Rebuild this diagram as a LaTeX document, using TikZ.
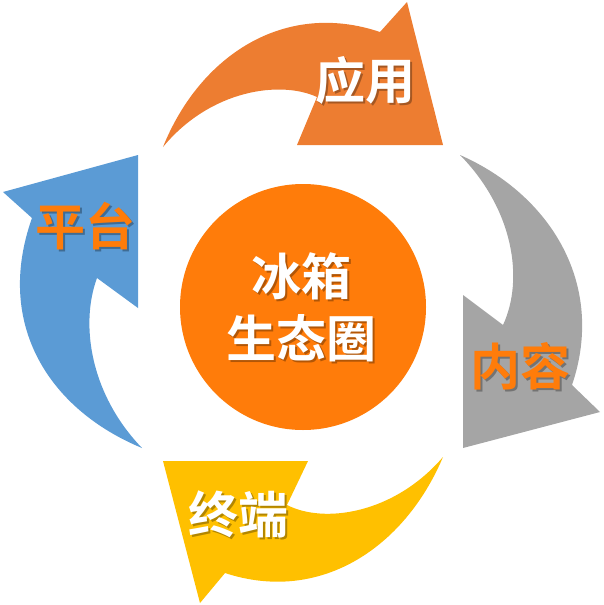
\documentclass[tikz,border=0pt]{standalone}
\usepackage{fontspec}
\newfontfamily\cjk{Noto Sans CJK SC Bold}
\definecolor{oarr}{HTML}{ED7D31}
\definecolor{garr}{HTML}{A5A5A5}
\definecolor{yarr}{HTML}{FFC000}
\definecolor{barr}{HTML}{5B9BD5}
\definecolor{hubc}{HTML}{FF7C0A}
\tikzset{txt/.style={font=\cjk\fontsize{50}{62}\selectfont,inner sep=0pt,align=center},
  shd/.style={txt,text=black,opacity=.3}}
\begin{document}
\begin{tikzpicture}[x=1pt,y=-1pt]
\useasboundingbox(0,0)rectangle(604,605);
\fill[oarr](163,147)..controls(200,55)and(285,0)..(380,32)--(407,2)--(443,145)--(297,145)--(317,97)
  ..controls(280,80)and(210,90)..(163,147)--cycle;
\fill[garr](460,155)..controls(551,195)and(606,285)..(572,385)--(600,412)--(463,448)--(463,295)--(503,325)
  ..controls(524,280)and(514,210)..(460,155)--cycle;
\fill[yarr](443,457)..controls(404,549)and(319,604)..(225,573)--(200,603)--(163,461)--(308,461)--(287,505)
  ..controls(324,524)and(394,514)..(443,457)--cycle;
\fill[barr](142,448)..controls(50,410)and(-6,325)..(32,218)--(3,192)--(138,155)--(138,308)--(97,278)
  ..controls(80,324)and(90,394)..(142,448)--cycle;
\node[circle,fill=hubc,minimum size=246pt,inner sep=0pt](hub)at(303,307){};
\foreach \n/\t/\c/\x/\y in {app/应用/white/365/80,cont/内容/hubc/520/366,term/终端/white/238/514,
  plat/平台/hubc/85/226,core/冰箱\\生态圈/white/301/307}{
  \node[shd]at(\x+2.5,\y+2.5){\t};
  \node[txt,text=\c](\n)at(\x,\y){\t};
}
\end{tikzpicture}
\end{document}
